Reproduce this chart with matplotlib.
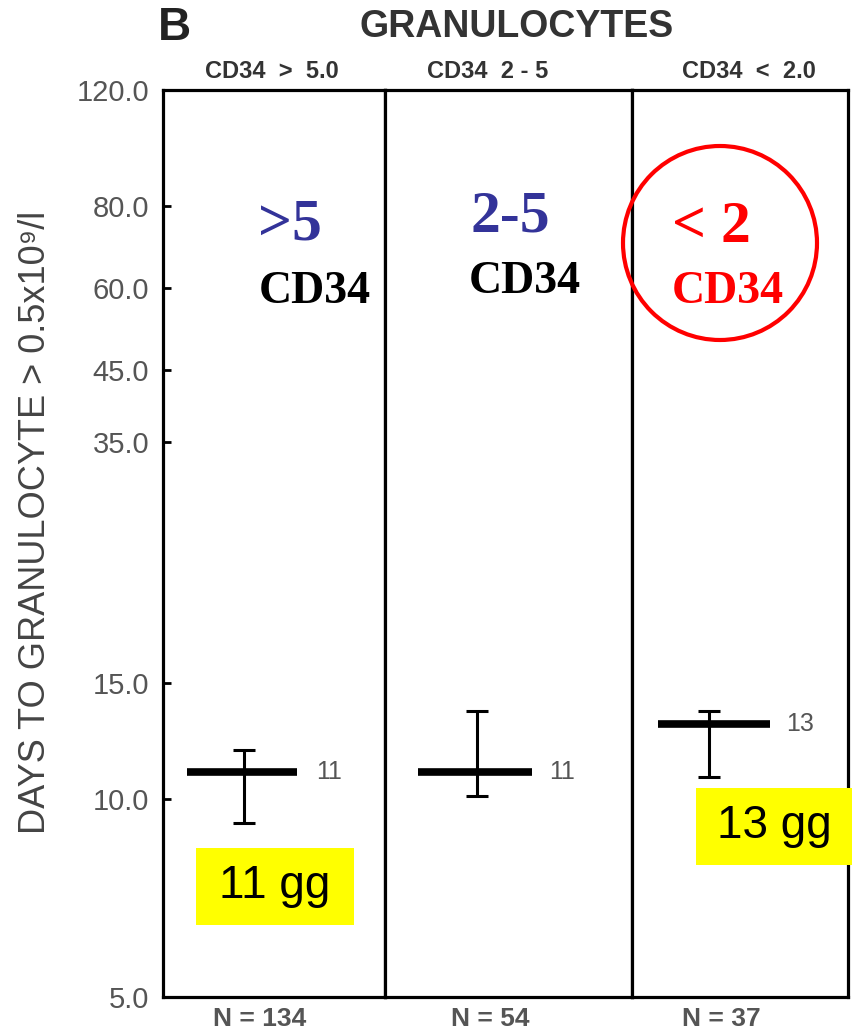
import matplotlib
matplotlib.use("Agg")
import matplotlib.pyplot as plt
from matplotlib.patches import Rectangle, Ellipse

# CD34 dose groups and days to granulocyte recovery (> 0.5x10^9/l)
groups = ["CD34  >  5.0", "CD34  2 - 5", "CD34  <  2.0"]
n_patients = [134, 54, 37]
median_days = [11, 11, 13]
low_days = [9.2, 10.1, 10.8]
high_days = [11.9, 13.6, 13.6]
big_labels = [">5", "2-5", "< 2"]
gg_labels = ["11 gg", None, "13 gg"]

yticks = [5.0, 10.0, 15.0, 35.0, 45.0, 60.0, 80.0, 120.0]

W, H = 852, 1031
fig = plt.figure(figsize=(W / 100, H / 100), dpi=100)

def fx(px):
    return px / W

def fy(py):
    return 1 - py / H

# panel edges in pixels
edges = [163, 385, 632, 848]
top_px, bot_px = 90, 997

# where things sit inside each panel (axes fraction)
err_x = [0.365, 0.372, 0.356]
bar_x0 = [0.108, 0.134, 0.120]
bar_x1 = [0.604, 0.595, 0.639]
num_x = [0.748, 0.717, 0.778]
big_pos = [(0.572, 0.851), (0.506, 0.859), (0.370, 0.848)]
cd_pos = [(0.685, 0.777), (0.567, 0.788), (0.444, 0.777)]
head_x = [272, 488, 749]
n_x = [260, 490, 721]

blue = "#333399"
grey = "#444444"

axes = []
for i in range(3):
    ax = fig.add_axes([fx(edges[i]), fy(bot_px), fx(edges[i + 1] - edges[i]),
                       (bot_px - top_px) / H])
    ax.set_yscale("log")
    ax.set_ylim(5, 120)
    ax.set_xlim(0, 1)
    ax.set_xticks([])
    ax.minorticks_off()
    for sp in ax.spines.values():
        sp.set_linewidth(2.3)
        sp.set_color("black")
    if i == 0:
        ax.set_yticks(yticks)
        ax.set_yticklabels(["%.1f" % t for t in yticks], fontsize=21,
                           color="#555555", family="Liberation Sans")
        ax.tick_params(axis="y", direction="in", length=6, width=2, pad=10)
    else:
        ax.set_yticks([])

    # median bar and range
    ax.hlines(median_days[i], bar_x0[i], bar_x1[i], color="black", lw=5.5, zorder=3)
    ax.errorbar([err_x[i]], [median_days[i]],
                yerr=[[median_days[i] - low_days[i]], [high_days[i] - median_days[i]]],
                fmt="none", ecolor="black", elinewidth=2.2, capsize=8, capthick=2.2,
                zorder=3)
    ax.text(num_x[i], median_days[i], str(median_days[i]), fontsize=18,
            color="#555555", ha="center", va="center", family="Liberation Sans")

    # dose labels
    colour = "red" if i == 2 else blue
    ax.text(*big_pos[i], big_labels[i], transform=ax.transAxes, fontsize=43,
            fontweight="bold", color=colour, family="Liberation Serif",
            ha="center", va="center")
    ax.text(*cd_pos[i], "CD34", transform=ax.transAxes, fontsize=33,
            fontweight="bold", color="red" if i == 2 else "black",
            family="Liberation Serif", ha="center", va="center")
    axes.append(ax)

# yellow boxes with median days
boxes = {0: (196, 848, 354, 925), 2: (696, 788, 852, 865)}
for i, (x0, y0, x1, y1) in boxes.items():
    fig.add_artist(Rectangle((fx(x0), fy(y1)), fx(x1 - x0), (y1 - y0) / H,
                             facecolor="#ffff00", edgecolor="none", zorder=5))
    fig.text(fx((x0 + x1) / 2), fy((y0 + y1) / 2), gg_labels[i], fontsize=33,
             family="Liberation Sans", ha="center", va="center", zorder=6)

# red circle round the low dose group
fig.add_artist(Ellipse((fx(720), fy(243)), 2 * 97 / W, 2 * 97 / H, fill=False,
                       edgecolor="red", lw=3, zorder=6))

# headers and counts
for i in range(3):
    fig.text(fx(head_x[i]), fy(72), groups[i], fontsize=17, fontweight="bold",
             color="#333333", ha="center", va="center", family="Liberation Sans")
    fig.text(fx(n_x[i]), fy(1019), "N = %d" % n_patients[i], fontsize=19,
             fontweight="bold", color="#555555", ha="center", va="center",
             family="Liberation Sans")

fig.text(fx(517), fy(27), "GRANULOCYTES", fontsize=27, fontweight="bold",
         color="#333333", ha="center", va="center", family="Liberation Sans")
fig.text(fx(174), fy(28), "B", fontsize=33, fontweight="bold", color="#222222",
         ha="center", va="center", family="Liberation Sans")

fig.text(fx(36), fy(522), "DAYS TO GRANULOCYTE > 0.5x10⁹/l", rotation=90,
         fontsize=26, color=grey, ha="center", va="center",
         family=["Liberation Sans", "DejaVu Sans"])

fig.savefig("out.png", dpi=100)
